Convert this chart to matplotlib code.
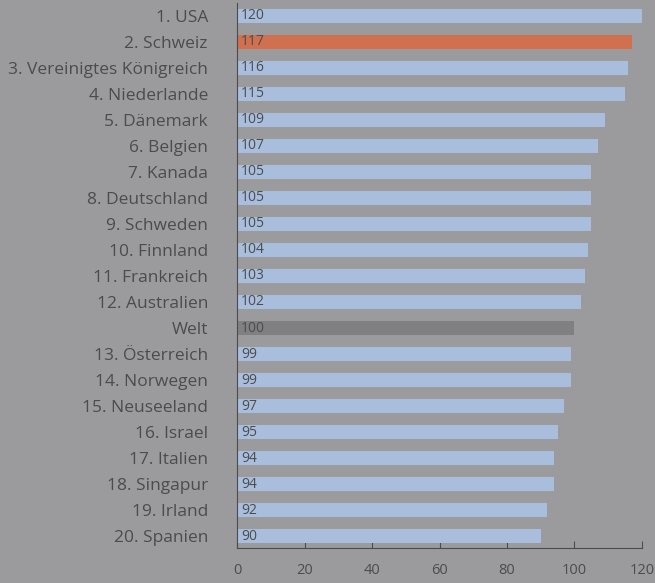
#!/usr/bin/env python3
"""Wohlstandsindex – horizontale Balken, Welt = 100."""
import matplotlib
matplotlib.use("Agg")
import matplotlib.pyplot as plt

laender = [
    "1. USA", "2. Schweiz", "3. Vereinigtes Königreich", "4. Niederlande",
    "5. Dänemark", "6. Belgien", "7. Kanada", "8. Deutschland", "9. Schweden",
    "10. Finnland", "11. Frankreich", "12. Australien", "Welt",
    "13. Österreich", "14. Norwegen", "15. Neuseeland", "16. Israel",
    "17. Italien", "18. Singapur", "19. Irland", "20. Spanien",
]
werte = [120, 117, 116, 115, 109, 107, 105, 105, 105, 104, 103, 102, 100,
         99, 99, 97, 95, 94, 94, 92, 90]
x_ticks = [0, 20, 40, 60, 80, 100, 120]

BG = "#9b9b9d"
BLAU = "#a8bedc"
ORANGE = "#d0704e"
WELT = "#808083"
TEXT = "#4c4c4e"

plt.rcParams["font.family"] = ["Open Sans", "DejaVu Sans"]

fig = plt.figure(figsize=(6.55, 5.83), dpi=100, facecolor=BG)
ax = fig.add_axes([0.362, 0.060, 0.618, 0.935])
ax.set_facecolor(BG)

farben = []
for name in laender:
    if name == "2. Schweiz":
        farben.append(ORANGE)
    elif name == "Welt":
        farben.append(WELT)
    else:
        farben.append(BLAU)

pos = list(range(len(laender)))
ax.barh(pos, werte, height=0.52, color=farben, zorder=2)

for p, w in zip(pos, werte):
    ax.text(1.2, p, str(w), va="center", ha="left", fontsize=10,
            color=TEXT, zorder=3)

ax.set_xlim(0, 120)
ax.set_ylim(len(laender) - 0.54, -0.5)
ax.set_yticks(pos)
ax.set_yticklabels(laender, fontsize=12.5, color=TEXT)
ax.set_xticks(x_ticks)
ax.set_xticklabels([str(t) for t in x_ticks], fontsize=10.5, color=TEXT)

ax.tick_params(axis="y", length=0, pad=21)
ax.tick_params(axis="x", direction="in", length=5, width=0.8,
               color=TEXT, pad=11)

for side in ("top", "right"):
    ax.spines[side].set_visible(False)
for side in ("left", "bottom"):
    ax.spines[side].set_color(TEXT)
    ax.spines[side].set_linewidth(0.8)

fig.savefig("out.png", dpi=100, facecolor=BG)
